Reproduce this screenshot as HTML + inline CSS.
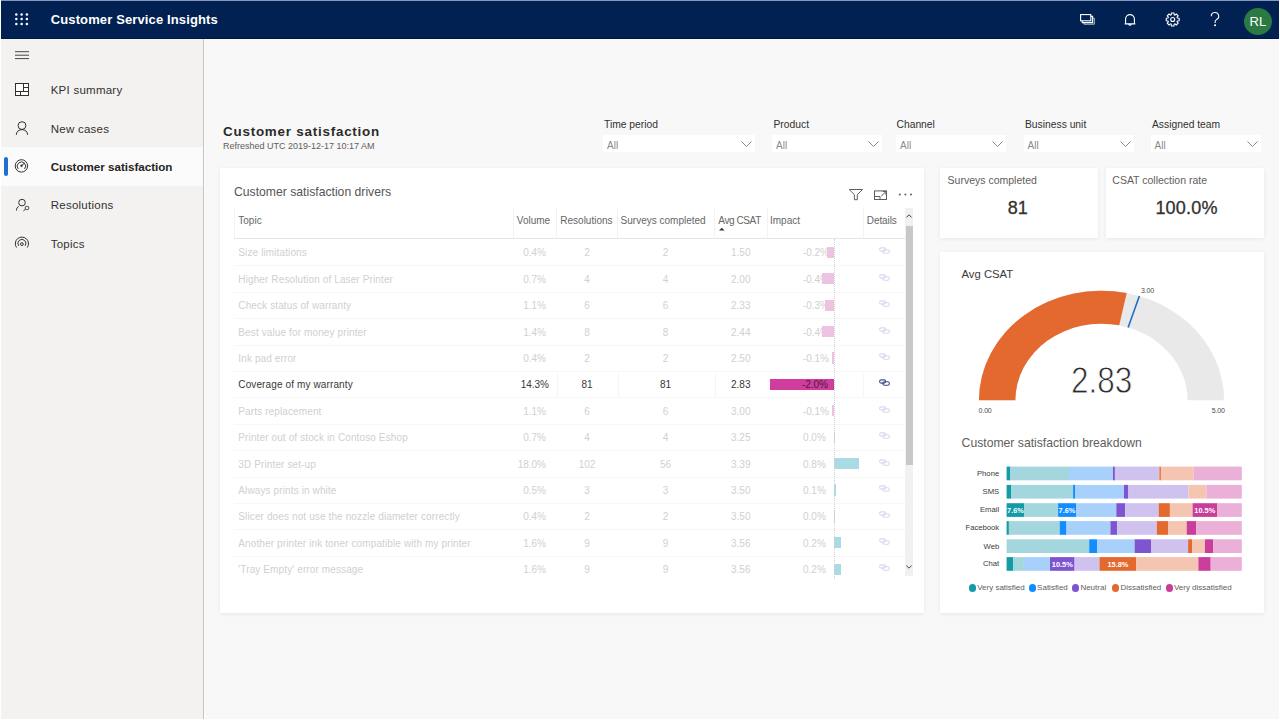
<!DOCTYPE html>
<html><head><meta charset="utf-8">
<style>
*{box-sizing:border-box;margin:0;padding:0}
html,body{width:1280px;height:720px;overflow:hidden;background:#fff;font-family:"Liberation Sans",sans-serif;}
.a{position:absolute}
#frame{position:absolute;left:1px;top:0;width:1278px;height:719px;background:#f8f8f8;overflow:hidden}
#hdr{position:absolute;left:0;top:0;width:1278px;height:39px;background:#002152;border-top:1px solid #8796bd;border-bottom:1px solid #001540}
#side{position:absolute;left:0;top:39px;width:203px;height:680px;background:#f3f2f1;border-right:1px solid #c4c4c4;box-shadow:1px 0 0 #fdfdfd}
.t{position:absolute;white-space:nowrap;line-height:1}
.card{position:absolute;background:#fff;box-shadow:0 1px 4px rgba(0,0,0,0.07)}
.dd{position:absolute;top:135px;height:17px;background:#fff}
.dd span{position:absolute;left:4px;top:5.6px;font-size:10px;line-height:1;color:#8a8886}
.dd i{position:absolute;right:3.5px;top:5.5px;width:10px;height:6px;background:no-repeat}
</style></head><body>
<div id="frame">
 <div id="hdr">
  <svg class="a" style="left:0;top:-1px" width="1277" height="39" viewBox="0 0 1277 39">
   <g fill="#fff">
    <circle cx="15.3" cy="14.4" r="1.25"/><circle cx="20.6" cy="14.4" r="1.25"/><circle cx="25.9" cy="14.4" r="1.25"/>
    <circle cx="15.3" cy="19.1" r="1.25"/><circle cx="20.6" cy="19.1" r="1.25"/><circle cx="25.9" cy="19.1" r="1.25"/>
    <circle cx="15.3" cy="23.9" r="1.25"/><circle cx="20.6" cy="23.9" r="1.25"/><circle cx="25.9" cy="23.9" r="1.25"/>
   </g>
  </svg>
  <div class="t" style="left:49.7px;top:12.2px;font-size:13px;letter-spacing:0.13px;font-weight:700;color:#fff">Customer Service Insights</div>
  <svg class="a" style="left:1060px;top:-1px" width="217" height="39" viewBox="1061 0 217 39" fill="none" stroke="#fff" stroke-width="1.1">
   <rect x="1080.6" y="14.6" width="10.2" height="6.2" />
   <path d="M1082.3 20.8v1.8h10.3v-6.2h-1.8" />
   <path d="M1084 22.6v1.6h10.3v-6h-1.7" stroke-width="0.9" stroke-opacity="0.8"/>
   <path d="M1125.6 23.6v-4.6a4.4 4.4 0 0 1 8.8 0v4.6M1124.7 23.9h10.6M1128.7 24.4a1.4 1.4 0 0 0 2.6 0"/>
   <circle cx="1172.7" cy="19.5" r="2"/>
   <path d="M1177.38 18.05 L1179.17 18.19 L1179.17 20.81 L1177.38 20.95 L1177.03 21.79 L1178.20 23.15 L1176.35 25.00 L1174.99 23.83 L1174.15 24.18 L1174.01 25.97 L1171.39 25.97 L1171.25 24.18 L1170.41 23.83 L1169.05 25.00 L1167.20 23.15 L1168.37 21.79 L1168.02 20.95 L1166.23 20.81 L1166.23 18.19 L1168.02 18.05 L1168.37 17.21 L1167.20 15.85 L1169.05 14.00 L1170.41 15.17 L1171.25 14.82 L1171.39 13.03 L1174.01 13.03 L1174.15 14.82 L1174.99 15.17 L1176.35 14.00 L1178.20 15.85 L1177.03 17.21Z" stroke-linejoin="round"/>
   <path d="M1211.3 16.3a3.7 3.7 0 1 1 5.2 3.3c-1 .6-1.4 1.2-1.4 2.4v1.1"/>
   <circle cx="1215.1" cy="25.2" r="0.5" fill="#fff"/>
  </svg>
  <div class="a" style="left:1243px;top:7px;width:28px;height:27px;border-radius:50%;background:#2b7a43"></div>
  <div class="t" style="left:1248.5px;top:14px;font-size:13px;color:#fff">RL</div>
 </div>
 <div id="side">
  <svg class="a" style="left:0;top:0" width="202" height="240" viewBox="1 39 202 240" fill="none" stroke="#323130" stroke-width="1">
   <path d="M15 51.7h14M15 55.2h14M15 58.6h14" stroke="#444"/>
   <rect x="15.5" y="83.5" width="13" height="12" fill="#fff"/>
   <path d="M23.5 83.5v8M23.5 87.5h5M15.5 91.5h13M20.5 91.5v4"/>
   <circle cx="22" cy="125.6" r="3.9"/>
   <path d="M16.3 134.8c0-3 2.5-5.2 5.7-5.2s5.6 2.2 5.6 5.2"/>
   <circle cx="21.4" cy="165.9" r="6.2"/>
   <path d="M18.2 168.9a4.2 4.2 0 1 1 6.4 0"/>
   <path d="M21.5 165.8l3-2.7"/><circle cx="21.5" cy="165.8" r="0.8" fill="#323130"/>
   <circle cx="22" cy="202.6" r="3.3"/>
   <path d="M16.4 210.6c0-2 1-3.5 2.4-4.2"/>
   <rect x="25.3" y="206.4" width="3.4" height="3.2" rx="1.2"/>
   <path d="M23.4 210.9l2-1.6"/>
   <path d="M16.5 247.5a6.6 6.6 0 1 1 10.8 0"/>
   <path d="M18.7 245.8a4 4 0 1 1 6.4 0"/>
   <circle cx="21.9" cy="244.1" r="1.4"/>
  </svg>
  <div class="a" style="left:0;top:108px;width:202px;height:39px;background:#fbfbfb"></div>
  <div class="a" style="left:3px;top:118px;width:3.5px;height:19px;background:#1f6fd1;border-radius:2px"></div>
  <svg class="a" style="left:0;top:108px" width="40" height="39" viewBox="1 147 40 39" fill="none" stroke="#323130" stroke-width="1">
   <circle cx="21.4" cy="165.9" r="6.2"/>
   <path d="M18.2 168.9a4.2 4.2 0 1 1 6.4 0"/>
   <path d="M21.5 165.8l3-2.7"/><circle cx="21.5" cy="165.8" r="0.8" fill="#323130"/>
  </svg>
  <div class="t" style="left:49.7px;top:46.2px;font-size:11.5px;letter-spacing:0.25px;color:#323130">KPI summary</div>
  <div class="t" style="left:49.7px;top:84.6px;font-size:11.5px;letter-spacing:0.25px;color:#323130">New cases</div>
  <div class="t" style="left:49.7px;top:122px;font-size:11.6px;font-weight:700;color:#252423">Customer satisfaction</div>
  <div class="t" style="left:49.7px;top:161.4px;font-size:11.5px;letter-spacing:0.25px;color:#323130">Resolutions</div>
  <div class="t" style="left:49.7px;top:199.8px;font-size:11.5px;letter-spacing:0.25px;color:#323130">Topics</div>
 </div>
 <div class="t" style="left:222px;top:124.6px;font-size:13.4px;font-weight:700;color:#2b2b2b;letter-spacing:0.78px">Customer satisfaction</div>
 <div class="t" style="left:222px;top:142.2px;font-size:9px;color:#605e5c">Refreshed UTC 2019-12-17 10:17 AM</div>
 <!-- filters -->
 <div class="t" style="left:603px;top:120.1px;font-size:10.3px;color:#323130">Time period</div>
 <div class="dd" style="left:602px;width:152px"><span>All</span><svg class="a" style="right:3px;top:5.8px" width="11" height="6" viewBox="0 0 11 6"><path d="M0.5 0.5l5 5 5-5" fill="none" stroke="#8a8886" stroke-width="1"/></svg></div>
 <div class="t" style="left:772.5px;top:120.1px;font-size:10.3px;color:#323130">Product</div>
 <div class="dd" style="left:771px;width:110px"><span>All</span><svg class="a" style="right:3px;top:5.8px" width="11" height="6" viewBox="0 0 11 6"><path d="M0.5 0.5l5 5 5-5" fill="none" stroke="#8a8886" stroke-width="1"/></svg></div>
 <div class="t" style="left:895.5px;top:120.1px;font-size:10.3px;color:#323130">Channel</div>
 <div class="dd" style="left:895px;width:110px"><span>All</span><svg class="a" style="right:3px;top:5.8px" width="11" height="6" viewBox="0 0 11 6"><path d="M0.5 0.5l5 5 5-5" fill="none" stroke="#8a8886" stroke-width="1"/></svg></div>
 <div class="t" style="left:1024px;top:120.1px;font-size:10.3px;color:#323130">Business unit</div>
 <div class="dd" style="left:1022.5px;width:110px"><span>All</span><svg class="a" style="right:3px;top:5.8px" width="11" height="6" viewBox="0 0 11 6"><path d="M0.5 0.5l5 5 5-5" fill="none" stroke="#8a8886" stroke-width="1"/></svg></div>
 <div class="t" style="left:1151px;top:120.1px;font-size:10.3px;color:#323130">Assigned team</div>
 <div class="dd" style="left:1149.5px;width:110px"><span>All</span><svg class="a" style="right:3px;top:5.8px" width="11" height="6" viewBox="0 0 11 6"><path d="M0.5 0.5l5 5 5-5" fill="none" stroke="#8a8886" stroke-width="1"/></svg></div>
 <!-- cards -->
 <div class="card" id="tbl" style="left:219.3px;top:168px;width:703.6px;height:445px"></div>
 <div class="card" style="left:939px;top:168px;width:158px;height:70px"></div>
 <div class="card" style="left:1104.5px;top:168px;width:158.5px;height:70px"></div>
 <div class="card" id="gc" style="left:939px;top:252px;width:324px;height:361px"></div>
 <div id="pg" class="a" style="left:-1px;top:0;width:1280px;height:720px">
<!--TABLE-->
<div class="t" style="left:234px;top:185.8px;font-size:12.2px;color:#555">Customer satisfaction drivers</div>
<svg class="a" style="left:845px;top:185px" width="70" height="20" viewBox="845 185 70 20" fill="none" stroke="#605e5c" stroke-width="1">
 <path d="M849.2 189.5h13.3l-5.2 5.2v5h-2.9v-5z"/>
 <rect x="874.5" y="190.9" width="12" height="8.6"/>
 <path d="M874.5 196.5h5.5v3" />
 <path d="M881.2 196.2l4.6-4.6M882.6 191.5h3.3v3.3"/>
 <g fill="#605e5c" stroke="none"><circle cx="899.8" cy="194.6" r="1"/><circle cx="905.4" cy="194.6" r="1"/><circle cx="911" cy="194.6" r="1"/></g>
</svg>
<div class="t" style="left:238.3px;top:216.1px;font-size:10px;color:#666666">Topic</div>
<div class="t" style="left:516.8px;top:216.1px;font-size:10px;color:#666666">Volume</div>
<div class="t" style="left:560.3px;top:216.1px;font-size:10px;color:#666666">Resolutions</div>
<div class="t" style="left:620.6px;top:216.1px;font-size:10px;color:#666666">Surveys completed</div>
<div class="t" style="left:718.3px;top:216.1px;font-size:10px;color:#666666;letter-spacing:-0.4px">Avg CSAT</div>
<div class="t" style="left:770px;top:216.1px;font-size:10px;color:#666666">Impact</div>
<div class="t" style="left:866.8px;top:216.1px;font-size:10px;color:#666666;letter-spacing:-0.1px">Details</div>
<svg class="a" style="left:718px;top:227px" width="8" height="4" viewBox="0 0 8 4"><path d="M1 3.6L3.8 0.8 6.6 3.6z" fill="#333"/></svg>
<div class="a" style="left:234px;top:208px;width:1px;height:30px;background:#f3f3f3"></div>
<div class="a" style="left:513px;top:208px;width:1px;height:30px;background:#f3f3f3"></div>
<div class="a" style="left:556px;top:208px;width:1px;height:30px;background:#f3f3f3"></div>
<div class="a" style="left:617px;top:208px;width:1px;height:30px;background:#f3f3f3"></div>
<div class="a" style="left:714px;top:208px;width:1px;height:30px;background:#f3f3f3"></div>
<div class="a" style="left:766.5px;top:208px;width:1px;height:30px;background:#f3f3f3"></div>
<div class="a" style="left:862.5px;top:208px;width:1px;height:30px;background:#f3f3f3"></div>
<div class="a" style="left:234px;top:238px;width:671px;height:1px;background:#e6e6e6"></div>
<div class="a" style="left:234px;top:265.4px;width:671px;height:1px;background:#f7f7f7"></div>
<div class="t" style="left:238.3px;top:248.4px;font-size:10px;letter-spacing:0.12px;color:#d0d0d0">Size limitations</div>
<div class="t" style="right:734.0px;top:248.4px;font-size:10px;color:#d0d0d0">0.4%</div>
<div class="t" style="left:566.5px;width:41px;text-align:center;top:248.4px;font-size:10px;color:#d0d0d0">2</div>
<div class="t" style="left:645.5px;width:40px;text-align:center;top:248.4px;font-size:10px;color:#d0d0d0">2</div>
<div class="t" style="right:529.5px;top:248.4px;font-size:10px;color:#d0d0d0">1.50</div>
<div class="t" style="right:451.0px;top:248.4px;font-size:10px;color:#d0d0d0">-0.2%</div>
<div class="a" style="left:827.0px;top:246.7px;width:6.6px;height:11.4px;background:#edc3e1"></div>
<svg class="a" style="left:878px;top:247.3px" width="14" height="9" viewBox="878 247.3 14 9" fill="none" stroke="#d5d9ee" stroke-width="1.1"><rect x="879.6" y="248.2" width="6" height="3.2" rx="1.6"/><rect x="882.8" y="250.0" width="6.6" height="3.6" rx="1.8"/></svg>
<div class="a" style="left:234px;top:291.8px;width:671px;height:1px;background:#f7f7f7"></div>
<div class="t" style="left:238.3px;top:274.8px;font-size:10px;letter-spacing:0.12px;color:#d0d0d0">Higher Resolution of Laser Printer</div>
<div class="t" style="right:734.0px;top:274.8px;font-size:10px;color:#d0d0d0">0.7%</div>
<div class="t" style="left:566.5px;width:41px;text-align:center;top:274.8px;font-size:10px;color:#d0d0d0">4</div>
<div class="t" style="left:645.5px;width:40px;text-align:center;top:274.8px;font-size:10px;color:#d0d0d0">4</div>
<div class="t" style="right:529.5px;top:274.8px;font-size:10px;color:#d0d0d0">2.00</div>
<div class="t" style="right:451.0px;top:274.8px;font-size:10px;color:#d0d0d0">-0.4%</div>
<div class="a" style="left:822.4px;top:273.1px;width:11.2px;height:11.4px;background:#edc3e1"></div>
<svg class="a" style="left:878px;top:273.7px" width="14" height="9" viewBox="878 273.7 14 9" fill="none" stroke="#d5d9ee" stroke-width="1.1"><rect x="879.6" y="274.6" width="6" height="3.2" rx="1.6"/><rect x="882.8" y="276.4" width="6.6" height="3.6" rx="1.8"/></svg>
<div class="a" style="left:234px;top:318.2px;width:671px;height:1px;background:#f7f7f7"></div>
<div class="t" style="left:238.3px;top:301.2px;font-size:10px;letter-spacing:0.12px;color:#d0d0d0">Check status of warranty</div>
<div class="t" style="right:734.0px;top:301.2px;font-size:10px;color:#d0d0d0">1.1%</div>
<div class="t" style="left:566.5px;width:41px;text-align:center;top:301.2px;font-size:10px;color:#d0d0d0">6</div>
<div class="t" style="left:645.5px;width:40px;text-align:center;top:301.2px;font-size:10px;color:#d0d0d0">6</div>
<div class="t" style="right:529.5px;top:301.2px;font-size:10px;color:#d0d0d0">2.33</div>
<div class="t" style="right:451.0px;top:301.2px;font-size:10px;color:#d0d0d0">-0.3%</div>
<div class="a" style="left:824.6px;top:299.5px;width:9.0px;height:11.4px;background:#edc3e1"></div>
<svg class="a" style="left:878px;top:300.1px" width="14" height="9" viewBox="878 300.1 14 9" fill="none" stroke="#d5d9ee" stroke-width="1.1"><rect x="879.6" y="301.0" width="6" height="3.2" rx="1.6"/><rect x="882.8" y="302.8" width="6.6" height="3.6" rx="1.8"/></svg>
<div class="a" style="left:234px;top:344.6px;width:671px;height:1px;background:#f7f7f7"></div>
<div class="t" style="left:238.3px;top:327.6px;font-size:10px;letter-spacing:0.12px;color:#d0d0d0">Best value for money printer</div>
<div class="t" style="right:734.0px;top:327.6px;font-size:10px;color:#d0d0d0">1.4%</div>
<div class="t" style="left:566.5px;width:41px;text-align:center;top:327.6px;font-size:10px;color:#d0d0d0">8</div>
<div class="t" style="left:645.5px;width:40px;text-align:center;top:327.6px;font-size:10px;color:#d0d0d0">8</div>
<div class="t" style="right:529.5px;top:327.6px;font-size:10px;color:#d0d0d0">2.44</div>
<div class="t" style="right:451.0px;top:327.6px;font-size:10px;color:#d0d0d0">-0.4%</div>
<div class="a" style="left:821.6px;top:325.9px;width:12.0px;height:11.4px;background:#edc3e1"></div>
<svg class="a" style="left:878px;top:326.5px" width="14" height="9" viewBox="878 326.5 14 9" fill="none" stroke="#d5d9ee" stroke-width="1.1"><rect x="879.6" y="327.4" width="6" height="3.2" rx="1.6"/><rect x="882.8" y="329.2" width="6.6" height="3.6" rx="1.8"/></svg>
<div class="a" style="left:234px;top:371.0px;width:671px;height:1px;background:#f7f7f7"></div>
<div class="t" style="left:238.3px;top:354.0px;font-size:10px;letter-spacing:0.12px;color:#d0d0d0">Ink pad error</div>
<div class="t" style="right:734.0px;top:354.0px;font-size:10px;color:#d0d0d0">0.4%</div>
<div class="t" style="left:566.5px;width:41px;text-align:center;top:354.0px;font-size:10px;color:#d0d0d0">2</div>
<div class="t" style="left:645.5px;width:40px;text-align:center;top:354.0px;font-size:10px;color:#d0d0d0">2</div>
<div class="t" style="right:529.5px;top:354.0px;font-size:10px;color:#d0d0d0">2.50</div>
<div class="t" style="right:451.0px;top:354.0px;font-size:10px;color:#d0d0d0">-0.1%</div>
<div class="a" style="left:831.6px;top:352.3px;width:2.0px;height:11.4px;background:#edc3e1"></div>
<svg class="a" style="left:878px;top:352.9px" width="14" height="9" viewBox="878 352.9 14 9" fill="none" stroke="#d5d9ee" stroke-width="1.1"><rect x="879.6" y="353.8" width="6" height="3.2" rx="1.6"/><rect x="882.8" y="355.6" width="6.6" height="3.6" rx="1.8"/></svg>
<div class="a" style="left:234px;top:397.4px;width:671px;height:1px;background:#f7f7f7"></div>
<div class="t" style="left:238.3px;top:380.4px;font-size:10px;letter-spacing:0.12px;color:#383838">Coverage of my warranty</div>
<div class="t" style="right:731.0px;top:380.4px;font-size:10px;color:#383838">14.3%</div>
<div class="t" style="left:566.5px;width:41px;text-align:center;top:380.4px;font-size:10px;color:#383838">81</div>
<div class="t" style="left:645.5px;width:40px;text-align:center;top:380.4px;font-size:10px;color:#383838">81</div>
<div class="t" style="right:529.5px;top:380.4px;font-size:10px;color:#383838">2.83</div>
<div class="a" style="left:770px;top:378.7px;width:63.6px;height:11.4px;background:#d13d9e"></div>
<div class="t" style="right:452.0px;top:380.4px;font-size:10px;color:#4a1a3a">-2.0%</div>
<div class="a" style="left:556.5px;top:372.6px;width:1px;height:24px;background:#f5f5f5"></div>
<div class="a" style="left:617.5px;top:372.6px;width:1px;height:24px;background:#f5f5f5"></div>
<div class="a" style="left:715px;top:372.6px;width:1px;height:24px;background:#f5f5f5"></div>
<div class="a" style="left:862.5px;top:372.6px;width:1px;height:24px;background:#f5f5f5"></div>
<svg class="a" style="left:878px;top:379.3px" width="14" height="9" viewBox="878 379.3 14 9" fill="none" stroke="#3d4a8c" stroke-width="1.1"><rect x="879.6" y="380.2" width="6" height="3.2" rx="1.6"/><rect x="882.8" y="382.0" width="6.6" height="3.6" rx="1.8"/></svg>
<div class="a" style="left:234px;top:423.8px;width:671px;height:1px;background:#f7f7f7"></div>
<div class="t" style="left:238.3px;top:406.8px;font-size:10px;letter-spacing:0.12px;color:#d0d0d0">Parts replacement</div>
<div class="t" style="right:734.0px;top:406.8px;font-size:10px;color:#d0d0d0">1.1%</div>
<div class="t" style="left:566.5px;width:41px;text-align:center;top:406.8px;font-size:10px;color:#d0d0d0">6</div>
<div class="t" style="left:645.5px;width:40px;text-align:center;top:406.8px;font-size:10px;color:#d0d0d0">6</div>
<div class="t" style="right:529.5px;top:406.8px;font-size:10px;color:#d0d0d0">3.00</div>
<div class="t" style="right:451.0px;top:406.8px;font-size:10px;color:#d0d0d0">-0.1%</div>
<div class="a" style="left:831.6px;top:405.1px;width:2.0px;height:11.4px;background:#edc3e1"></div>
<svg class="a" style="left:878px;top:405.7px" width="14" height="9" viewBox="878 405.7 14 9" fill="none" stroke="#d5d9ee" stroke-width="1.1"><rect x="879.6" y="406.6" width="6" height="3.2" rx="1.6"/><rect x="882.8" y="408.4" width="6.6" height="3.6" rx="1.8"/></svg>
<div class="a" style="left:234px;top:450.2px;width:671px;height:1px;background:#f7f7f7"></div>
<div class="t" style="left:238.3px;top:433.2px;font-size:10px;letter-spacing:0.12px;color:#d0d0d0">Printer out of stock in Contoso Eshop</div>
<div class="t" style="right:734.0px;top:433.2px;font-size:10px;color:#d0d0d0">0.7%</div>
<div class="t" style="left:566.5px;width:41px;text-align:center;top:433.2px;font-size:10px;color:#d0d0d0">4</div>
<div class="t" style="left:645.5px;width:40px;text-align:center;top:433.2px;font-size:10px;color:#d0d0d0">4</div>
<div class="t" style="right:529.5px;top:433.2px;font-size:10px;color:#d0d0d0">3.25</div>
<div class="t" style="right:454.2px;top:433.2px;font-size:10px;color:#d0d0d0">0.0%</div>
<div class="a" style="left:834px;top:431.5px;width:1.0px;height:11.4px;background:#a9dbe4"></div>
<svg class="a" style="left:878px;top:432.1px" width="14" height="9" viewBox="878 432.1 14 9" fill="none" stroke="#d5d9ee" stroke-width="1.1"><rect x="879.6" y="433.0" width="6" height="3.2" rx="1.6"/><rect x="882.8" y="434.8" width="6.6" height="3.6" rx="1.8"/></svg>
<div class="a" style="left:234px;top:476.6px;width:671px;height:1px;background:#f7f7f7"></div>
<div class="t" style="left:238.3px;top:459.6px;font-size:10px;letter-spacing:0.12px;color:#d0d0d0">3D Printer set-up</div>
<div class="t" style="right:734.0px;top:459.6px;font-size:10px;color:#d0d0d0">18.0%</div>
<div class="t" style="left:566.5px;width:41px;text-align:center;top:459.6px;font-size:10px;color:#d0d0d0">102</div>
<div class="t" style="left:645.5px;width:40px;text-align:center;top:459.6px;font-size:10px;color:#d0d0d0">56</div>
<div class="t" style="right:529.5px;top:459.6px;font-size:10px;color:#d0d0d0">3.39</div>
<div class="t" style="right:454.2px;top:459.6px;font-size:10px;color:#d0d0d0">0.8%</div>
<div class="a" style="left:834px;top:457.9px;width:25.2px;height:11.4px;background:#a9dbe4"></div>
<svg class="a" style="left:878px;top:458.5px" width="14" height="9" viewBox="878 458.5 14 9" fill="none" stroke="#d5d9ee" stroke-width="1.1"><rect x="879.6" y="459.4" width="6" height="3.2" rx="1.6"/><rect x="882.8" y="461.2" width="6.6" height="3.6" rx="1.8"/></svg>
<div class="a" style="left:234px;top:503.0px;width:671px;height:1px;background:#f7f7f7"></div>
<div class="t" style="left:238.3px;top:486.0px;font-size:10px;letter-spacing:0.12px;color:#d0d0d0">Always prints in white</div>
<div class="t" style="right:734.0px;top:486.0px;font-size:10px;color:#d0d0d0">0.5%</div>
<div class="t" style="left:566.5px;width:41px;text-align:center;top:486.0px;font-size:10px;color:#d0d0d0">3</div>
<div class="t" style="left:645.5px;width:40px;text-align:center;top:486.0px;font-size:10px;color:#d0d0d0">3</div>
<div class="t" style="right:529.5px;top:486.0px;font-size:10px;color:#d0d0d0">3.50</div>
<div class="t" style="right:454.2px;top:486.0px;font-size:10px;color:#d0d0d0">0.1%</div>
<div class="a" style="left:834px;top:484.3px;width:2.2px;height:11.4px;background:#a9dbe4"></div>
<svg class="a" style="left:878px;top:484.9px" width="14" height="9" viewBox="878 484.9 14 9" fill="none" stroke="#d5d9ee" stroke-width="1.1"><rect x="879.6" y="485.8" width="6" height="3.2" rx="1.6"/><rect x="882.8" y="487.6" width="6.6" height="3.6" rx="1.8"/></svg>
<div class="a" style="left:234px;top:529.4px;width:671px;height:1px;background:#f7f7f7"></div>
<div class="t" style="left:238.3px;top:512.4px;font-size:10px;letter-spacing:0.12px;color:#d0d0d0">Slicer does not use the nozzle diameter correctly</div>
<div class="t" style="right:734.0px;top:512.4px;font-size:10px;color:#d0d0d0">0.4%</div>
<div class="t" style="left:566.5px;width:41px;text-align:center;top:512.4px;font-size:10px;color:#d0d0d0">2</div>
<div class="t" style="left:645.5px;width:40px;text-align:center;top:512.4px;font-size:10px;color:#d0d0d0">2</div>
<div class="t" style="right:529.5px;top:512.4px;font-size:10px;color:#d0d0d0">3.50</div>
<div class="t" style="right:454.2px;top:512.4px;font-size:10px;color:#d0d0d0">0.0%</div>
<div class="a" style="left:834px;top:510.7px;width:1.2px;height:11.4px;background:#a9dbe4"></div>
<svg class="a" style="left:878px;top:511.3px" width="14" height="9" viewBox="878 511.3 14 9" fill="none" stroke="#d5d9ee" stroke-width="1.1"><rect x="879.6" y="512.2" width="6" height="3.2" rx="1.6"/><rect x="882.8" y="514.0" width="6.6" height="3.6" rx="1.8"/></svg>
<div class="a" style="left:234px;top:555.8px;width:671px;height:1px;background:#f7f7f7"></div>
<div class="t" style="left:238.3px;top:538.8px;font-size:10px;letter-spacing:0.12px;color:#d0d0d0">Another printer ink toner compatible with my printer</div>
<div class="t" style="right:734.0px;top:538.8px;font-size:10px;color:#d0d0d0">1.6%</div>
<div class="t" style="left:566.5px;width:41px;text-align:center;top:538.8px;font-size:10px;color:#d0d0d0">9</div>
<div class="t" style="left:645.5px;width:40px;text-align:center;top:538.8px;font-size:10px;color:#d0d0d0">9</div>
<div class="t" style="right:529.5px;top:538.8px;font-size:10px;color:#d0d0d0">3.56</div>
<div class="t" style="right:454.2px;top:538.8px;font-size:10px;color:#d0d0d0">0.2%</div>
<div class="a" style="left:834px;top:537.1px;width:6.8px;height:11.4px;background:#a9dbe4"></div>
<svg class="a" style="left:878px;top:537.7px" width="14" height="9" viewBox="878 537.7 14 9" fill="none" stroke="#d5d9ee" stroke-width="1.1"><rect x="879.6" y="538.6" width="6" height="3.2" rx="1.6"/><rect x="882.8" y="540.4" width="6.6" height="3.6" rx="1.8"/></svg>
<div class="t" style="left:238.3px;top:565.2px;font-size:10px;letter-spacing:0.12px;color:#d0d0d0">'Tray Empty' error message</div>
<div class="t" style="right:734.0px;top:565.2px;font-size:10px;color:#d0d0d0">1.6%</div>
<div class="t" style="left:566.5px;width:41px;text-align:center;top:565.2px;font-size:10px;color:#d0d0d0">9</div>
<div class="t" style="left:645.5px;width:40px;text-align:center;top:565.2px;font-size:10px;color:#d0d0d0">9</div>
<div class="t" style="right:529.5px;top:565.2px;font-size:10px;color:#d0d0d0">3.56</div>
<div class="t" style="right:454.2px;top:565.2px;font-size:10px;color:#d0d0d0">0.2%</div>
<div class="a" style="left:834px;top:563.5px;width:6.8px;height:11.4px;background:#a9dbe4"></div>
<svg class="a" style="left:878px;top:564.1px" width="14" height="9" viewBox="878 564.1 14 9" fill="none" stroke="#d5d9ee" stroke-width="1.1"><rect x="879.6" y="565.0" width="6" height="3.2" rx="1.6"/><rect x="882.8" y="566.8" width="6.6" height="3.6" rx="1.8"/></svg>
<div class="a" style="left:833.6px;top:239px;width:0;height:340px;border-left:1px dotted #d0d0d0"></div>
<div class="a" style="left:905px;top:207.5px;width:8px;height:368px;background:#f1f1f1"></div>
<div class="a" style="left:906px;top:226px;width:7px;height:239px;background:#c8c8c8"></div>
<svg class="a" style="left:905px;top:213px" width="8" height="6" viewBox="0 0 8 6"><path d="M1.3 4.5L4 1.8 6.7 4.5" fill="none" stroke="#444" stroke-width="1"/></svg>
<svg class="a" style="left:905px;top:564px" width="8" height="6" viewBox="0 0 8 6"><path d="M1.3 1.5L4 4.2 6.7 1.5" fill="none" stroke="#444" stroke-width="1"/></svg>
<!--/TABLE-->
<!--RIGHT-->
<div class="t" style="left:947.6px;top:175.3px;font-size:10.5px;color:#605e5c">Surveys completed</div>
<div class="t" style="left:1112.3px;top:175.3px;font-size:10.5px;color:#605e5c">CSAT collection rate</div>
<div class="t" style="left:1007.8px;top:198.7px;font-size:18px;color:#323130;-webkit-text-stroke:0.3px #323130">81</div>
<div class="t" style="left:1155.4px;top:198.7px;font-size:18px;letter-spacing:0.2px;color:#323130;-webkit-text-stroke:0.3px #323130">100.0%</div>
<div class="t" style="left:961.5px;top:268.6px;font-size:11.3px;color:#3b3a39">Avg CSAT</div>
<svg class="a" style="left:960px;top:280px" width="290" height="130" viewBox="960 280 290 130">
 <path d="M978.90 400.30 A122.6 109.6 0 0 1 1224.10 400.30 L1187.60 400.30 A86.1 76.6 0 0 0 1015.40 400.30Z" fill="#e9e9e9"/>
 <path d="M978.90 400.30 A122.6 109.6 0 0 1 1126.74 293.05 L1119.22 325.34 A86.1 76.6 0 0 0 1015.40 400.30Z" fill="#e3692f"/>
 <path d="M1128.11 327.45L1139.39 296.06" stroke="#1c6fcb" stroke-width="1.6"/>
</svg>
<div class="t" style="left:1070.6px;top:362.3px;font-size:37px;color:#2b2b2b;transform:scaleX(0.85);transform-origin:0 0;-webkit-text-stroke:0.8px #fff">2.83</div>
<div class="t" style="left:978.6px;top:406.6px;font-size:7px;color:#4a4a4a;letter-spacing:-0.15px">0.00</div>
<div class="t" style="left:1211.8px;top:406.6px;font-size:7px;color:#4a4a4a;letter-spacing:-0.15px">5.00</div>
<div class="t" style="left:1140.9px;top:287.3px;font-size:7px;color:#4a4a4a;letter-spacing:-0.15px">3.00</div>
<div class="t" style="left:961.6px;top:437px;font-size:12.2px;color:#605e5c">Customer satisfaction breakdown</div>
<div class="t" style="right:280.8px;top:469.8px;font-size:7.7px;color:#3b3a39">Phone</div>
<div class="t" style="right:280.8px;top:488.1px;font-size:7.7px;color:#3b3a39">SMS</div>
<div class="t" style="right:280.8px;top:506.4px;font-size:7.7px;color:#3b3a39">Email</div>
<div class="t" style="right:280.8px;top:524.3px;font-size:7.7px;color:#3b3a39">Facebook</div>
<div class="t" style="right:280.8px;top:542.5px;font-size:7.7px;color:#3b3a39">Web</div>
<div class="t" style="right:280.8px;top:560.3px;font-size:7.7px;color:#3b3a39">Chat</div>
<svg class="a" style="left:1000px;top:460px" width="250" height="120" viewBox="1000 460 250 120">
<rect x="1006.6" y="466.6" width="3.80" height="13.7" fill="#139ca7"/>
<rect x="1010.4" y="466.6" width="58.60" height="13.7" fill="#a3d7dd"/>
<rect x="1069.0" y="466.6" width="44.00" height="13.7" fill="#a7d1fb"/>
<rect x="1113.0" y="466.6" width="1.90" height="13.7" fill="#7e55d1"/>
<rect x="1114.9" y="466.6" width="44.50" height="13.7" fill="#d0c2ee"/>
<rect x="1159.4" y="466.6" width="1.50" height="13.7" fill="#e4692f"/>
<rect x="1160.9" y="466.6" width="32.80" height="13.7" fill="#f4c6b1"/>
<rect x="1193.7" y="466.6" width="48.10" height="13.7" fill="#eab0d7"/>
<rect x="1006.6" y="484.9" width="4.40" height="13.7" fill="#139ca7"/>
<rect x="1011.0" y="484.9" width="62.10" height="13.7" fill="#a3d7dd"/>
<rect x="1073.1" y="484.9" width="2.30" height="13.7" fill="#118dff"/>
<rect x="1075.4" y="484.9" width="48.60" height="13.7" fill="#a7d1fb"/>
<rect x="1124.0" y="484.9" width="4.40" height="13.7" fill="#7e55d1"/>
<rect x="1128.4" y="484.9" width="60.10" height="13.7" fill="#d0c2ee"/>
<rect x="1188.5" y="484.9" width="18.00" height="13.7" fill="#f4c6b1"/>
<rect x="1206.5" y="484.9" width="35.30" height="13.7" fill="#eab0d7"/>
<rect x="1006.6" y="503.2" width="17.80" height="13.7" fill="#139ca7"/>
<rect x="1024.4" y="503.2" width="33.70" height="13.7" fill="#a3d7dd"/>
<text x="1015.5" y="512.9" text-anchor="middle" font-family="Liberation Sans" font-weight="700" font-size="7.4" fill="#fff">7.6%</text>
<rect x="1058.1" y="503.2" width="17.90" height="13.7" fill="#118dff"/>
<rect x="1076.0" y="503.2" width="40.30" height="13.7" fill="#a7d1fb"/>
<text x="1067.0" y="512.9" text-anchor="middle" font-family="Liberation Sans" font-weight="700" font-size="7.4" fill="#fff">7.6%</text>
<rect x="1116.3" y="503.2" width="8.90" height="13.7" fill="#7e55d1"/>
<rect x="1125.2" y="503.2" width="33.50" height="13.7" fill="#d0c2ee"/>
<rect x="1158.7" y="503.2" width="11.20" height="13.7" fill="#e4692f"/>
<rect x="1169.9" y="503.2" width="22.70" height="13.7" fill="#f4c6b1"/>
<rect x="1192.6" y="503.2" width="24.40" height="13.7" fill="#c93d9b"/>
<rect x="1217.0" y="503.2" width="24.80" height="13.7" fill="#eab0d7"/>
<text x="1204.8" y="512.9" text-anchor="middle" font-family="Liberation Sans" font-weight="700" font-size="7.4" fill="#fff">10.5%</text>
<rect x="1006.6" y="521.1" width="2.30" height="13.7" fill="#139ca7"/>
<rect x="1008.9" y="521.1" width="50.80" height="13.7" fill="#a3d7dd"/>
<rect x="1059.7" y="521.1" width="6.80" height="13.7" fill="#118dff"/>
<rect x="1066.5" y="521.1" width="43.90" height="13.7" fill="#a7d1fb"/>
<rect x="1110.4" y="521.1" width="6.80" height="13.7" fill="#7e55d1"/>
<rect x="1117.2" y="521.1" width="39.60" height="13.7" fill="#d0c2ee"/>
<rect x="1156.8" y="521.1" width="11.20" height="13.7" fill="#e4692f"/>
<rect x="1168.0" y="521.1" width="18.70" height="13.7" fill="#f4c6b1"/>
<rect x="1186.7" y="521.1" width="9.40" height="13.7" fill="#c93d9b"/>
<rect x="1196.1" y="521.1" width="45.70" height="13.7" fill="#eab0d7"/>
<rect x="1006.6" y="539.3" width="82.60" height="13.7" fill="#a3d7dd"/>
<rect x="1089.2" y="539.3" width="7.80" height="13.7" fill="#118dff"/>
<rect x="1097.0" y="539.3" width="37.60" height="13.7" fill="#a7d1fb"/>
<rect x="1134.6" y="539.3" width="16.40" height="13.7" fill="#7e55d1"/>
<rect x="1151.0" y="539.3" width="37.10" height="13.7" fill="#d0c2ee"/>
<rect x="1188.1" y="539.3" width="3.90" height="13.7" fill="#e4692f"/>
<rect x="1192.0" y="539.3" width="12.90" height="13.7" fill="#f4c6b1"/>
<rect x="1204.9" y="539.3" width="8.20" height="13.7" fill="#c93d9b"/>
<rect x="1213.1" y="539.3" width="28.70" height="13.7" fill="#eab0d7"/>
<rect x="1006.6" y="557.1" width="6.40" height="13.7" fill="#139ca7"/>
<rect x="1013.0" y="557.1" width="10.90" height="13.7" fill="#a3d7dd"/>
<rect x="1023.9" y="557.1" width="26.10" height="13.7" fill="#a7d1fb"/>
<rect x="1050.0" y="557.1" width="24.60" height="13.7" fill="#7e55d1"/>
<rect x="1074.6" y="557.1" width="24.90" height="13.7" fill="#d0c2ee"/>
<text x="1062.3" y="566.8" text-anchor="middle" font-family="Liberation Sans" font-weight="700" font-size="7.4" fill="#fff">10.5%</text>
<rect x="1099.5" y="557.1" width="36.80" height="13.7" fill="#e4692f"/>
<rect x="1136.3" y="557.1" width="62.10" height="13.7" fill="#f4c6b1"/>
<text x="1117.9" y="566.8" text-anchor="middle" font-family="Liberation Sans" font-weight="700" font-size="7.4" fill="#fff">15.8%</text>
<rect x="1198.4" y="557.1" width="12.30" height="13.7" fill="#c93d9b"/>
<rect x="1210.7" y="557.1" width="31.10" height="13.7" fill="#eab0d7"/>
</svg>
<div class="a" style="left:968.9px;top:584.3px;width:7.4px;height:7.4px;border-radius:50%;background:#139ca7"></div>
<div class="t" style="left:977.2px;top:584.4px;font-size:8px;color:#605e5c">Very satisfied</div>
<div class="a" style="left:1028.8px;top:584.3px;width:7.4px;height:7.4px;border-radius:50%;background:#118dff"></div>
<div class="t" style="left:1037.1px;top:584.4px;font-size:8px;color:#605e5c">Satisfied</div>
<div class="a" style="left:1072.1px;top:584.3px;width:7.4px;height:7.4px;border-radius:50%;background:#7e55d1"></div>
<div class="t" style="left:1080.4px;top:584.4px;font-size:8px;color:#605e5c">Neutral</div>
<div class="a" style="left:1112.1px;top:584.3px;width:7.4px;height:7.4px;border-radius:50%;background:#e4692f"></div>
<div class="t" style="left:1120.4px;top:584.4px;font-size:8px;color:#605e5c">Dissatisfied</div>
<div class="a" style="left:1165.6px;top:584.3px;width:7.4px;height:7.4px;border-radius:50%;background:#c93d9b"></div>
<div class="t" style="left:1173.9px;top:584.4px;font-size:8px;color:#605e5c">Very dissatisfied</div>
<!--/RIGHT-->
 </div>

</div>
</body></html>
